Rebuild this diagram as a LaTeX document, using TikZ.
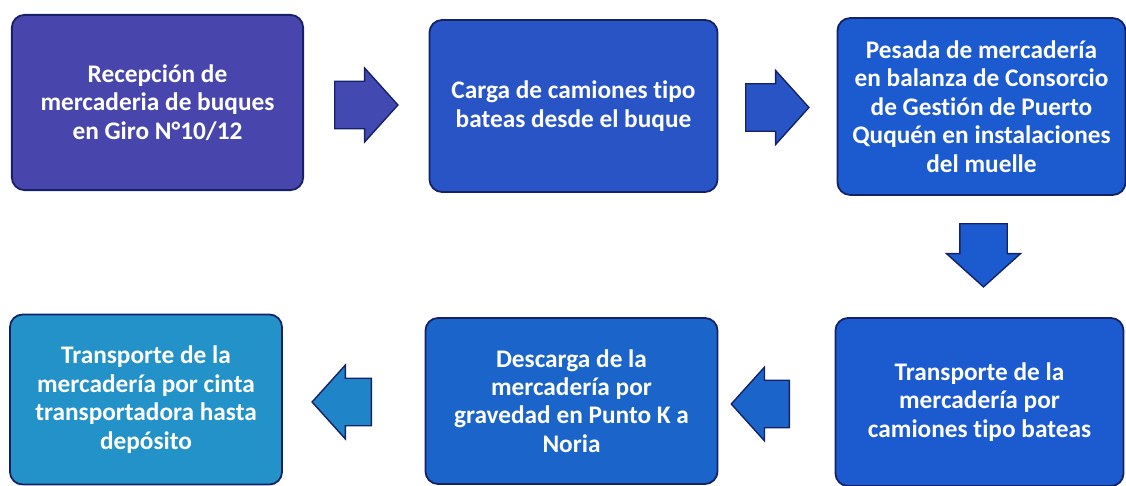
\documentclass[tikz,border=0pt]{standalone}
\usepackage{fontspec}
\setmainfont{Carlito}[RawFeature={-liga;-calt;-dlig}]
\usepackage{tikz}
\usetikzlibrary{positioning,shapes.arrows}
\definecolor{paso1}{RGB}{72,70,172}
\definecolor{paso2}{RGB}{40,84,198}
\definecolor{paso3}{RGB}{28,90,208}
\definecolor{paso5}{RGB}{26,100,202}
\definecolor{paso6}{RGB}{34,146,200}
\definecolor{borde}{RGB}{22,34,104}
\tikzset{
  paso/.style={draw=borde, line width=1.3pt, rounded corners=9pt,
    minimum width=7.2cm, minimum height=4.3cm, align=center,
    text=white, font=\bfseries\fontsize{18}{20.2}\selectfont},
  flecha/.style={single arrow, draw=borde, line width=1pt, anchor=tail,
    minimum height=1.58cm, inner xsep=0pt, inner ysep=0.575cm,
    single arrow head extend=0.33cm, single arrow tip angle=96},
  vertical/.style={inner xsep=0.575cm, inner ysep=0pt}
}

\begin{document}
\begin{tikzpicture}[x=0.025cm, y=-0.025cm]
  \useasboundingbox (0,0) rectangle (1126,486);
  % fila superior
  \node[paso, fill=paso1, minimum width=7.28cm, minimum height=4.38cm] (recep) at (157.5,102.5)
    {Recepción de\\mercaderia de buques\\en Giro N°10/12};
  \node[paso, fill=paso2] (carga) at (573.5,106)
    {Carga de camiones tipo\\bateas desde el buque};
  \node[paso, fill=paso3, minimum height=4.42cm] (pesada) at (981.5,106.5)
    {Pesada de mercadería\\en balanza de Consorcio\\de Gestión de Puerto\\Ququén en instalaciones\\del muelle};
  % fila inferior
  \node[paso, fill=paso3, minimum height=4.2cm] (transp) at (979.5,402)
    {Transporte de la\\mercadería por\\camiones tipo bateas};
  \node[paso, fill=paso5, minimum width=7.3cm, minimum height=4.15cm] (desc) at (571.5,401)
    {Descarga de la\\mercadería por\\gravedad en Punto K a\\Noria};
  \node[paso, fill=paso6, minimum width=6.8cm, minimum height=4.25cm] (cinta) at (146,399.5)
    {Transporte de la\\mercadería por cinta\\transportadora hasta\\depósito};
  % flechas
  \node[flecha, fill=paso1!80!paso2] (f1) at (334,105) {};
  \node[flecha, fill=paso2] (f2) at (745,107.5) {};
  \node[flecha, vertical, fill=paso3, shape border rotate=270] (f3) at (983.5,223) {};
  \node[flecha, fill=paso5, shape border rotate=180, minimum height=1.45cm] (f4) at (790,404) {};
  \node[flecha, fill=paso6!70!paso5, shape border rotate=180, minimum height=1.48cm] (f5) at (372,402) {};
\end{tikzpicture}
\end{document}
